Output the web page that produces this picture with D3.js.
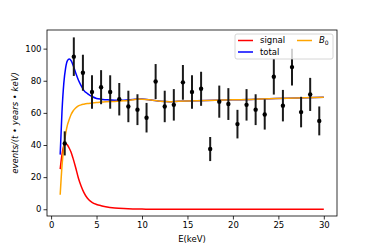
<!DOCTYPE html>
<html>
<head>
<meta charset="utf-8">
<script src="https://cdn.jsdelivr.net/npm/d3@7"></script>
<style>
  body { margin: 0; background: #fff; }
  text { font-family: "DejaVu Sans", sans-serif; }
</style>
</head>
<body>
<script>
// Measured data points (bin centres, counts, error bars)
var binX = [1.5, 2.5, 3.5, 4.5, 5.5, 6.5, 7.5, 8.5, 9.5, 10.5, 11.5, 12.5, 13.5, 14.5, 15.5,
            16.5, 17.5, 18.5, 19.5, 20.5, 21.5, 22.5, 23.5, 24.5, 25.5, 26.5, 27.5, 28.5, 29.5];
var counts = [41, 95, 85, 73, 76, 73, 68.5, 64, 62, 57, 79.5, 64, 65, 79, 73,
              75, 37.5, 67, 65.5, 53, 65, 62, 59, 82.5, 64.5, 88.5, 60.5, 71.5, 55];
var errs = [7.5, 12, 11.2, 10.4, 10.6, 10.4, 10.1, 9.8, 9.6, 9.2, 10.9, 9.8, 9.8, 10.8, 10.4,
            10.6, 7.5, 10, 9.9, 8.9, 9.8, 9.6, 9.4, 11.1, 9.8, 11.5, 9.5, 10.3, 9];

// Fit curves, sampled along E
var curveX = [1, 1.2, 1.4, 1.6, 1.8, 2, 2.2, 2.4, 2.7, 3, 3.3, 3.6, 4, 4.5, 5, 5.5, 6, 7, 8, 9,
              9.6, 10, 11, 12, 13, 14, 16, 18, 20, 22, 24, 26, 28, 30];
var signal = [25, 34, 39.5, 41, 40, 38, 35.5, 32, 26, 19.5, 14.5, 10.5, 6.8, 4.3, 3, 2.2, 1.6, 0.8, 0.4, 0.2,
              0.15, 0.1, 0.05, 0, 0, 0, 0, 0, 0, 0, 0, 0, 0, 0];
var b0 = [9, 27, 39, 47, 52.5, 56, 59, 61, 63, 64.3, 65, 65.4, 65.8, 66.1, 66.4, 66.7, 66.9, 67.1, 67.5, 68.2,
          68.6, 68.5, 68, 67.3, 67, 67.2, 67.5, 67.8, 68.1, 68.4, 68.8, 69.1, 69.4, 69.7];
var total = [34, 61, 78.5, 88, 92.5, 93.5, 92.5, 90, 85, 80.5, 77, 74, 72, 70.2, 69, 68.5, 68.2, 67.8, 67.9, 68.4,
             68.7, 68.6, 68, 67.3, 67, 67.2, 67.5, 67.8, 68.1, 68.4, 68.8, 69.1, 69.4, 69.7];

var xTicks = [0, 5, 10, 15, 20, 25, 30];
var yTicks = [0, 20, 40, 60, 80, 100];

var W = 374, H = 249;
var margin = {top: 30, right: 37, bottom: 33, left: 47};
var width = W - margin.left - margin.right;
var height = H - margin.top - margin.bottom;

var svg = d3.select("body").append("svg")
    .attr("width", W)
    .attr("height", H);

var g = svg.append("g")
    .attr("transform", "translate(" + margin.left + "," + margin.top + ")");

var x = d3.scaleLinear().domain([-0.45, 31.45]).range([0, width]);
var y = d3.scaleLinear().domain([-4.2, 111.6]).range([height, 0]);

// clip for curves
g.append("defs").append("clipPath")
    .attr("id", "clip")
    .append("rect")
    .attr("width", width)
    .attr("height", height);

var line = function(vals) {
    return d3.line()
        .x(function(d, i) { return x(curveX[i]); })
        .y(function(d) { return y(d); })
        .curve(d3.curveMonotoneX)(vals);
};

var plot = g.append("g").attr("clip-path", "url(#clip)");

plot.append("path").attr("d", line(signal))
    .attr("fill", "none").attr("stroke", "red").attr("stroke-width", 1.5);
plot.append("path").attr("d", line(total))
    .attr("fill", "none").attr("stroke", "blue").attr("stroke-width", 1.5);
plot.append("path").attr("d", line(b0))
    .attr("fill", "none").attr("stroke", "orange").attr("stroke-width", 1.5);

// Error bars and markers
plot.selectAll(".ebar")
    .data(counts)
    .enter()
    .append("line")
        .attr("class", "ebar")
        .attr("x1", function(d, i) { return x(binX[i]); })
        .attr("x2", function(d, i) { return x(binX[i]); })
        .attr("y1", function(d, i) { return y(d - errs[i]); })
        .attr("y2", function(d, i) { return y(d + errs[i]); })
        .attr("stroke", "#1a1a1a")
        .attr("stroke-width", 2);

plot.selectAll(".pt")
    .data(counts)
    .enter()
    .append("circle")
        .attr("class", "pt")
        .attr("cx", function(d, i) { return x(binX[i]); })
        .attr("cy", function(d) { return y(d); })
        .attr("r", 2.2)
        .attr("fill", "#000");

// Axes
var xAxis = g.append("g")
    .attr("transform", "translate(0," + height + ")")
    .call(d3.axisBottom(x).tickValues(xTicks).tickSize(3.5).tickPadding(2));
var yAxis = g.append("g")
    .call(d3.axisLeft(y).tickValues(yTicks).tickSize(3.5).tickPadding(2));

[xAxis, yAxis].forEach(function(a) {
    a.select(".domain").remove();
    a.selectAll("line").attr("stroke", "#000").attr("stroke-width", 0.8);
    a.selectAll("text").attr("font-size", "8.5px").attr("fill", "#000");
});

// Frame
g.append("rect")
    .attr("width", width)
    .attr("height", height)
    .attr("fill", "none")
    .attr("stroke", "#000")
    .attr("stroke-width", 0.8);

// Axis labels
g.append("text")
    .attr("x", width / 2)
    .attr("y", height + 26)
    .attr("text-anchor", "middle")
    .attr("font-size", "8.5px")
    .text("E(keV)");

g.append("text")
    .attr("transform", "translate(" + (15 - margin.left) + "," + (height / 2) + ") rotate(-90)")
    .attr("text-anchor", "middle")
    .attr("dy", "0.35em")
    .attr("font-size", "8.5px")
    .attr("font-style", "italic")
    .text("events/(t \u2022 years \u2022 keV)");

// Legend
var legend = g.append("g")
    .attr("transform", "translate(" + (235 - margin.left) + "," + (34 - margin.top) + ")");

legend.append("rect")
    .attr("width", 98)
    .attr("height", 25)
    .attr("rx", 2)
    .attr("fill", "#fff")
    .attr("fill-opacity", 0.8)
    .attr("stroke", "#ccc")
    .attr("stroke-width", 0.8);

var legendItems = [
    {label: "signal", color: "red", col: 0, row: 0},
    {label: "total", color: "blue", col: 0, row: 1},
    {label: "B", color: "orange", col: 1, row: 0}
];

legendItems.forEach(function(d) {
    var lx = 3 + d.col * 59;
    var ly = 6.5 + d.row * 11.5;
    legend.append("line")
        .attr("x1", lx).attr("x2", lx + 15)
        .attr("y1", ly).attr("y2", ly)
        .attr("stroke", d.color).attr("stroke-width", 1.5);
    var t = legend.append("text")
        .attr("x", lx + 22)
        .attr("y", ly)
        .attr("dy", "0.35em")
        .attr("font-size", "8.5px");
    if (d.label == "B") {
        t.append("tspan").attr("font-style", "italic").text("B");
        t.append("tspan").attr("font-size", "6px").attr("dy", "2").text("0");
    } else {
        t.text(d.label);
    }
});
</script>
</body>
</html>
